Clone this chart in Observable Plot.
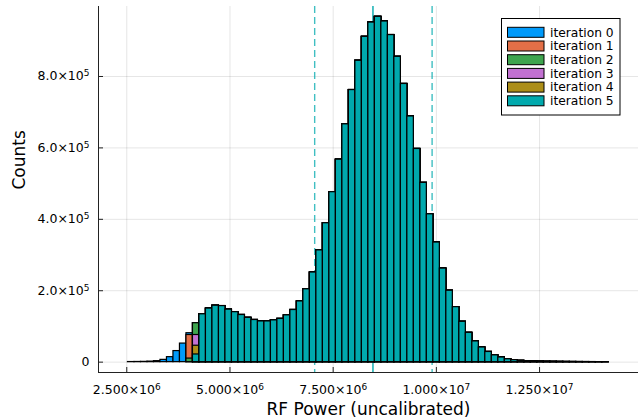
<!DOCTYPE html>
<html><head><meta charset="utf-8">
<script src="https://cdn.jsdelivr.net/npm/d3@7"></script>
<script src="https://cdn.jsdelivr.net/npm/@observablehq/plot@0.6"></script>
<style>
body{margin:0;background:#fff;}
#chart{width:644px;height:420px;}
</style></head><body><div id="chart"></div>
<script>
// ---- data ----
const iterations = ["iteration 0","iteration 1","iteration 2","iteration 3","iteration 4","iteration 5"];
const colors = ["#009AFA","#E36F47","#3EA44E","#C271D2","#AC8E18","#00A9AD"];
const binStart = 2.529e6;
const binWidth = 0.1574e6;
const counts0 = [300,500,800,1500,2800,6400,14000,31000,52000,81000,
  109000,134000,150000,158000,157000,147000,140000,132000,124000,118000,
  114000,114000,117000,121000,131000,146000,170000,204000,251000,313000,
  389000,476000,567000,666000,762000,844000,911000,951000,967000,954000,
  916000,855000,779000,688000,597000,502000,414000,335000,262000,200000,
  154000,113000,82000,58000,41000,28500,19000,13000,8000,5600,
  3600,2600,1800,1300,1000,800,600,450,350,250,
  200,150,100,80];
// first non-empty bin of each iteration, and its (partial) count
const cutBin = [0, 9, 9, 10, 10, 10];
const cutCount = [300, 76000, 10000, 76000, 46000, 21500];
const thresholds = [7.052e6, 9.897e6];
const center = 8.464e6;
const xTicks = [2.5e6, 5e6, 7.5e6, 1e7, 1.25e7];
const xTickLabels = ["2.500×10⁶","5.000×10⁶","7.500×10⁶","1.000×10⁷","1.250×10⁷"];
const yTicks = [0, 2e5, 4e5, 6e5, 8e5];
const yTickLabels = ["0","2.0×10⁵","4.0×10⁵","6.0×10⁵","8.0×10⁵"];
const xDomain = [1.815e6, 14.897e6];
const yDomain = [-29000, 996000];

// ---- build bars ----
const bars = [];
iterations.forEach((name, k) => {
  counts0.forEach((c, i) => {
    let v = 0;
    if (i === cutBin[k]) v = cutCount[k];
    else if (i > cutBin[k]) v = c;
    if (v > 0) bars.push({iter: name, x1: binStart + i*binWidth, x2: binStart + (i+1)*binWidth, count: v});
  });
});

const W = 644, H = 420, mL = 98, mR = 6, mT = 6, mB = 48;
const xLab = new Map(xTicks.map((t,i)=>[t, xTickLabels[i]]));
const yLab = new Map(yTicks.map((t,i)=>[t, yTickLabels[i]]));
const axisColor = "#222";

const plot = Plot.plot({
  width: W, height: H,
  marginLeft: mL, marginRight: mR, marginTop: mT, marginBottom: mB,
  style: {fontFamily: "DejaVu Sans", fontSize: "12.5px", background: "#fff", color: "#000"},
  x: {domain: xDomain},
  y: {domain: yDomain},
  color: {domain: iterations, range: colors},
  marks: [
    Plot.ruleX(xTicks, {x: d => d, stroke: "#000", strokeOpacity: 0.1}),
    Plot.ruleY(yTicks, {y: d => d, stroke: "#000", strokeOpacity: 0.1}),
    Plot.ruleX(thresholds, {x: d => d, stroke: "#00A9AD", strokeOpacity: 0.75, strokeWidth: 1.4, strokeDasharray: "7,4"}),
    Plot.ruleX([center], {x: d => d, stroke: "#00A9AD", strokeWidth: 1.4}),
    Plot.rect(bars, {x1: "x1", x2: "x2", y1: 0, y2: "count", fill: "iter", stroke: "#000", strokeWidth: 1.2}),
    Plot.ruleX([xDomain[0]], {x: d => d, stroke: axisColor, strokeWidth: 1}),
    Plot.ruleY([yDomain[0]], {y: d => d, stroke: axisColor, strokeWidth: 1}),
    Plot.tickX(xTicks, {x: d => d, insetTop: (H - mT - mB) - 5, stroke: axisColor}),
    Plot.tickY(yTicks, {y: d => d, insetRight: (W - mL - mR) - 5, stroke: axisColor}),
    Plot.axisX(xTicks, {tickSize: 0, tickPadding: 13, tickFormat: d => xLab.get(d), label: null, fontSize: 12.5}),
    Plot.axisY(yTicks, {tickSize: 0, tickPadding: 9, tickFormat: d => yLab.get(d), label: null, fontSize: 12.5}),
    Plot.text(["RF Power (uncalibrated)"], {frameAnchor: "bottom", dy: 42, fontSize: 17, text: d => d}),
    Plot.text(["Counts"], {frameAnchor: "left", dx: -79, rotate: -90, fontSize: 17, text: d => d})
  ]
});

// render exponent as a raised, smaller digit
const supMap = {"⁰":"0","¹":"1","²":"2","³":"3","⁴":"4","⁵":"5","⁶":"6","⁷":"7","⁸":"8","⁹":"9"};
d3.select(plot).selectAll("text").each(function() {
  const t = d3.select(this);
  if (t.selectAll("tspan").size() > 0) return;
  const s = t.text();
  const last = s.slice(-1);
  if (!(last in supMap) || s.indexOf("×10") < 0) return;
  t.text(null);
  t.append("tspan").text(s.slice(0, -1));
  t.append("tspan").attr("dy", "-0.45em").attr("font-size", "0.72em").text(supMap[last]);
});

// legend inside the plot area
const svg = d3.select(plot);
const lg = svg.append("g").attr("font-family", "DejaVu Sans").attr("font-size", 12.3).attr("text-anchor", "start");
lg.append("rect").attr("x", 501.5).attr("y", 18.5).attr("width", 118.5).attr("height", 96.5)
  .attr("fill", "#fff").attr("stroke", "#000").attr("stroke-width", 1);
iterations.forEach((name, k) => {
  const cy = 32.3 + k * 13.7;
  lg.append("rect").attr("x", 507.5).attr("y", cy - 5).attr("width", 36.5).attr("height", 10)
    .attr("fill", colors[k]).attr("stroke", "#000").attr("stroke-width", 1);
  lg.append("text").attr("x", 550).attr("y", cy).attr("dy", "0.35em").attr("text-anchor", "start").attr("fill", "#000").text(name);
});

document.getElementById("chart").appendChild(plot);
</script></body></html>
